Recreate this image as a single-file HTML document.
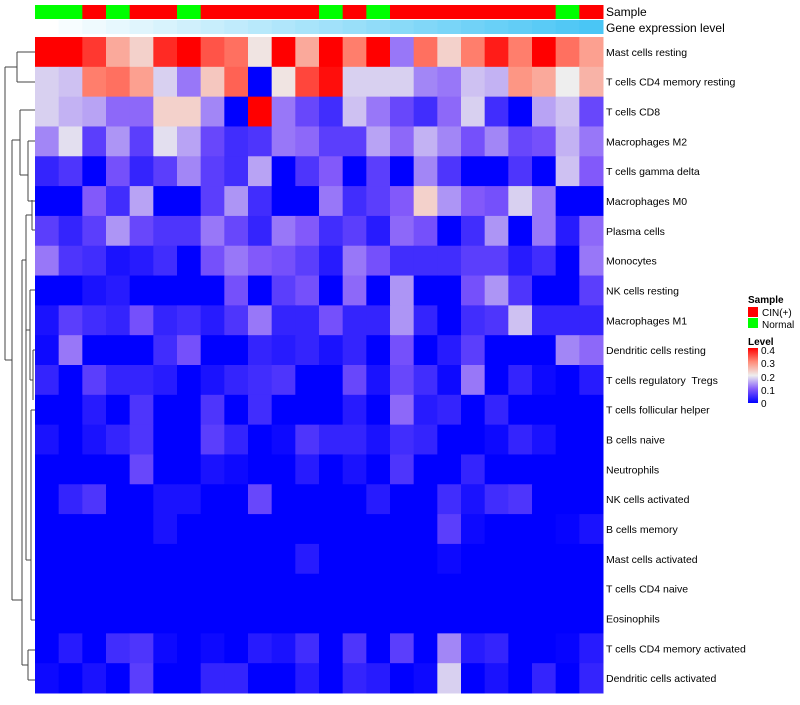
<!DOCTYPE html>
<html><head><meta charset="utf-8"><style>
body{margin:0;background:#fff;font-family:"Liberation Sans",sans-serif;}
svg text{font-family:"Liberation Sans",sans-serif;white-space:pre;}
</style></head><body>
<svg id="chart" width="800" height="700">
<g id="dendro" stroke="#444" stroke-width="1" fill="none">
<path d="M17,52 H35 M17,82 H35 M17,52 V82"/>
<path d="M5,67 H17 M5,67 V360 M5,360 H12"/>
<path d="M12,140 V600 M12,140 H20 M12,600 H22"/>
<path d="M20,110 V175 M20,110 H30 M20,175 H28 M28,141 V201 M28,141 H35 M28,201 H35 M30,110 H35"/>
<path d="M22,260 V665 M22,260 H26 M22,665 H28 M28,650 V680 M28,650 H35 M28,680 H35"/>
<path d="M26,215 V330 M26,215 H32 M26,330 H30 M32,200 V230 M32,230 H35 M30,290 V380 M30,290 H35 M30,380 H33 M33,350 V400 M33,350 H35"/>
<path d="M26,330 V560 M26,560 H31 M31,410 V620 M31,410 H35 M31,620 H35"/>
</g>
<g id="annot"></g>
<g id="cells"></g>
<g id="labels"></g>
<text x="606" y="16" font-size="12">Sample</text>
<text x="606" y="32" font-size="12">Gene expression level</text>
<g>
<text x="748" y="303" font-size="10" font-weight="bold">Sample</text>
<rect x="748" y="307" width="10" height="10" fill="#FF0000"/>
<text x="762" y="316" font-size="10">CIN(+)</text>
<rect x="748" y="318" width="10" height="10" fill="#00FF00"/>
<text x="762" y="328" font-size="10">Normal</text>
<text x="748" y="345" font-size="10" font-weight="bold">Level</text>
<defs><linearGradient id="lg" x1="0" y1="1" x2="0" y2="0">
<stop offset="0" stop-color="#0000FF"/><stop offset="0.25" stop-color="#8259FA"/><stop offset="0.5" stop-color="#EEEEEE"/><stop offset="0.75" stop-color="#FF8C78"/><stop offset="1" stop-color="#FF0000"/></linearGradient></defs>
<rect x="748" y="348" width="10" height="55" fill="url(#lg)"/>
<text x="761" y="354" font-size="10">0.4</text>
<text x="761" y="367" font-size="10">0.3</text>
<text x="761" y="381" font-size="10">0.2</text>
<text x="761" y="394" font-size="10">0.1</text>
<text x="761" y="407" font-size="10">0</text>
</g>
</svg>
<script>
const rowNames=["Mast cells resting","T cells CD4 memory resting","T cells CD8","Macrophages M2","T cells gamma delta","Macrophages M0","Plasma cells","Monocytes","NK cells resting","Macrophages M1","Dendritic cells resting","T cells regulatory  Tregs","T cells follicular helper","B cells naive","Neutrophils","NK cells activated","B cells memory","Mast cells activated","T cells CD4 naive","Eosinophils","T cells CD4 memory activated","Dendritic cells activated"];
const sampleGroups=["N","N","C","N","C","C","N","C","C","C","C","C","N","C","N","C","C","C","C","C","C","C","N","C"];
const geneLevel=[0,1,2,3,4,5,6,7,8,9,10,11,12,13,14,15,16,17,18,19,20,21,22,23];
const r1=[0.4,0.4,0.36,0.27,0.23,0.37,0.4,0.34,0.32,0.21,0.4,0.27,0.4,0.31,0.4,0.12,0.32,0.23,0.31,0.38,0.31,0.4,0.32,0.28];
const r2=[0.18,0.17,0.31,0.32,0.28,0.18,0.12,0.24,0.33,0,0.21,0.35,0.39,0.18,0.18,0.18,0.13,0.12,0.17,0.16,0.29,0.27,0.2,0.26];
const r3=[0.18,0.16,0.15,0.11,0.11,0.23,0.23,0.13,0,0.4,0.12,0.08,0.05,0.17,0.12,0.08,0.05,0.11,0.18,0.05,0,0.15,0.17,0.08];
const r4=[0.13,0.19,0.07,0.14,0.07,0.19,0.15,0.08,0.05,0.06,0.12,0.11,0.07,0.07,0.15,0.11,0.16,0.13,0.09,0.13,0.08,0.09,0.16,0.12];
const r5=[0.04,0.06,0,0.09,0.04,0.07,0.13,0.07,0.05,0.15,0,0.06,0.1,0,0.07,0,0.13,0.06,0,0,0.06,0,0.17,0.1];
const r6=[0,0,0.1,0.05,0.15,0,0,0.07,0.14,0.05,0,0,0.12,0.05,0.07,0.1,0.23,0.14,0.1,0.09,0.18,0.12,0,0];
const r7=[0.07,0.04,0.07,0.14,0.08,0.06,0.06,0.12,0.08,0.04,0.12,0.1,0.05,0.07,0.03,0.11,0.09,0,0.05,0.14,0,0.12,0.03,0.11];
const r8=[0.12,0.06,0.05,0.02,0.03,0.05,0,0.09,0.12,0.1,0.09,0.07,0.03,0.12,0.09,0.05,0.05,0.05,0.07,0.07,0.03,0.05,0,0.12];
const r9=[0,0,0.02,0.03,0,0,0,0,0.09,0,0.07,0.09,0,0.11,0,0.14,0,0,0.09,0.14,0.06,0,0,0.07];
const r10=[0.02,0.07,0.05,0.04,0.09,0.04,0.05,0.03,0.06,0.12,0.04,0.04,0.09,0.04,0.04,0.14,0.04,0,0.05,0.06,0.17,0.04,0.04,0.04];
const r11=[0.01,0.12,0,0,0,0.05,0.09,0,0,0.04,0.03,0.04,0.02,0.04,0,0.09,0,0.03,0.07,0,0,0,0.13,0.11];
const r12=[0.04,0,0.07,0.04,0.04,0.03,0,0.02,0.04,0.05,0.06,0,0,0.08,0.02,0.08,0.05,0.01,0.12,0,0.04,0.01,0,0.03];
const r13=[0,0,0.03,0,0.06,0,0,0.06,0,0.05,0,0,0,0.03,0,0.11,0.03,0.04,0,0.04,0,0,0,0];
const r14=[0.02,0,0.02,0.04,0.06,0,0,0.07,0.04,0,0.01,0.06,0.04,0.04,0.02,0.05,0.04,0,0,0.01,0.04,0.02,0,0];
const r15=[0,0,0,0,0.08,0,0,0.02,0.01,0,0,0.03,0,0.02,0,0.06,0,0,0.04,0,0,0,0,0];
const r16=[0,0.04,0.06,0,0,0.02,0.02,0,0,0.08,0,0,0,0,0.03,0,0,0.05,0.02,0.05,0.06,0,0,0];
const r17=[0,0,0,0,0,0.02,0,0,0,0,0,0,0,0,0,0,0,0.07,0.01,0,0,0,0.005,0.02];
const r18=[0,0,0,0,0,0,0,0,0,0,0,0.03,0,0,0,0,0,0.01,0,0,0,0,0,0];
const r19=[0,0,0,0,0,0,0,0,0,0,0,0,0,0,0,0,0,0,0,0,0,0,0,0];
const r20=[0,0,0,0,0,0,0,0,0,0,0,0,0,0,0,0,0,0,0,0,0,0,0,0];
const r21=[0,0.03,0,0.05,0.06,0.01,0,0.01,0,0.03,0.02,0.05,0,0.06,0,0.07,0,0.13,0.03,0.04,0,0,0.005,0.03];
const r22=[0.01,0,0.02,0,0.07,0,0,0.04,0.04,0,0,0.03,0,0.04,0.03,0,0.01,0.18,0,0.02,0,0.04,0,0.04];
const values=[r1,r2,r3,r4,r5,r6,r7,r8,r9,r10,r11,r12,r13,r14,r15,r16,r17,r18,r19,r20,r21,r22];

const X0=35,X1=603,Y0=37,Y1=693;
const nC=sampleGroups.length,nR=rowNames.length;
const cw=(X1-X0)/nC,rh=(Y1-Y0)/nR;
const xPos=i=>X0+i*cw, yPos=j=>Y0+j*rh;
function lerp(a,b,t){return a.map((v,i)=>Math.round(v+(b[i]-v)*t));}
function color(v){
  const s=[[0,0,255],[130,89,250],[238,238,238],[255,140,120],[255,0,0]];
  let t=Math.max(0,Math.min(1,v/0.4))*4;let k=Math.min(3,Math.floor(t));
  const c=lerp(s[k],s[k+1],t-k);return `rgb(${c[0]},${c[1]},${c[2]})`;
}
const NS="http://www.w3.org/2000/svg";
const cells=document.getElementById('cells');
values.forEach((row,j)=>row.forEach((v,i)=>{
  const r=document.createElementNS(NS,'rect');
  r.setAttribute('x',xPos(i));r.setAttribute('y',yPos(j));
  r.setAttribute('width',cw+0.5);r.setAttribute('height',rh+0.5);
  r.setAttribute('fill',color(v));
  
  
  cells.appendChild(r);
}));
const labels=document.getElementById('labels');
rowNames.forEach((n,j)=>{
  const t=document.createElementNS(NS,'text');
  t.setAttribute('x',606);t.setAttribute('y',yPos(j)+rh/2+4);
  t.setAttribute('font-size','10.5');t.textContent=n;
  
  
  labels.appendChild(t);
});
const annot=document.getElementById('annot');
const gl0=[255,255,255],gl1=[74,198,245];
sampleGroups.forEach((g,i)=>{
  const r=document.createElementNS(NS,'rect');
  r.setAttribute('x',xPos(i));r.setAttribute('y',5);r.setAttribute('width',cw+0.5);r.setAttribute('height',14);
  r.setAttribute('fill',g==='C'?'#FF0000':'#00FF00');
  
  
  annot.appendChild(r);
  const q=document.createElementNS(NS,'rect');
  const c=lerp(gl0,gl1,geneLevel[i]/23);
  q.setAttribute('x',xPos(i));q.setAttribute('y',20);q.setAttribute('width',cw+0.5);q.setAttribute('height',14);
  q.setAttribute('fill',`rgb(${c[0]},${c[1]},${c[2]})`);
  
  
  annot.appendChild(q);
});
</script>
</body></html>
